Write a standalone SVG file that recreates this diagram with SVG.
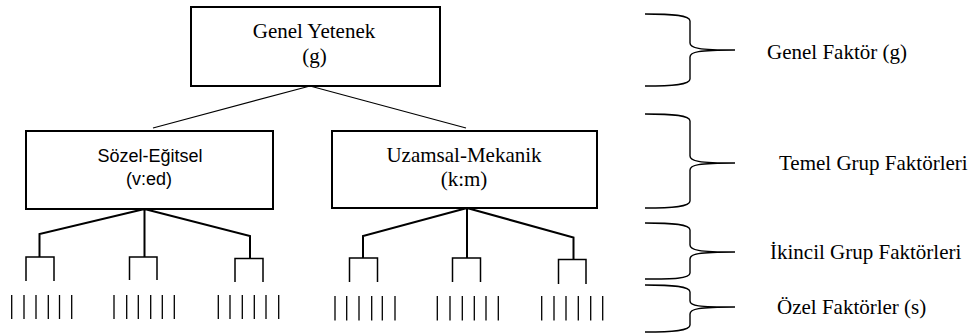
<svg xmlns="http://www.w3.org/2000/svg" width="973" height="334" viewBox="0 0 973 334">
<style>
.box{fill:#fff;stroke:#000;stroke-width:2}
.serif{font-family:"Liberation Serif","Times New Roman",serif;font-size:21px;fill:#000}
.sans{font-family:"Liberation Sans",Arial,sans-serif;font-size:18px;fill:#000}
.c{text-anchor:middle}
.thin{fill:none;stroke:#000;stroke-width:1.2}
.hub{fill:none;stroke:#000;stroke-width:2}
.br{fill:none;stroke:#000;stroke-width:1.5}
.tick{fill:none;stroke:#000;stroke-width:1.3}
.brace{fill:none;stroke:#000;stroke-width:1.4}
</style>
<rect width="973" height="334" fill="#fff"/>
<g id="connectors">
<path class="thin" d="M310,86 L153,128 M310,86 L466,128"/>
<path class="hub" d="M144.5,209 L39.5,234 L39.5,257 M144.5,209 L144.5,257 M144.5,209 L250,236 L250,258.5"/>
<path class="hub" d="M467,208 L363,236 L363,258 M467,208 L467,258 M467,208 L573.5,237.5 L573.5,259.5"/>
<path class="br" d="M26,281 V257 H54 V281 M129.5,280 V257 H157 V280 M235,282 V258.5 H263 V282"/>
<path class="br" d="M349.5,282 V258 H377.5 V282 M452.5,282 V258 H480.5 V282 M558.5,284 V259.5 H586 V284"/>
<path class="tick" d="M11.7,295 V319 M24,295 V319 M36,295 V319 M48.3,295 V319 M59.5,295 V319 M71.7,295 V319 M114,295 V319 M126.7,295 V319 M138.3,295 V319 M150.7,295 V319 M162.3,295 V319 M174.3,295 V319 M218.3,295 V319 M230,295 V319 M242.3,295 V319 M254.3,295 V319 M266,295 V319 M278.7,295 V319"/>
<path class="tick" d="M335,296 V320.5 M346.7,296 V320.5 M359,296 V320.5 M371.7,296 V320.5 M382.3,296 V320.5 M395,296 V320.5 M437.3,296 V320.5 M450,296 V320.5 M462.3,296 V320.5 M474.3,296 V320.5 M486,296 V320.5 M498.3,296 V320.5 M541.7,296 V320.5 M554,296 V320.5 M566,296 V320.5 M578.3,296 V320.5 M590.7,296 V320.5 M602.7,296 V320.5"/>
</g>
<g id="node-genel">
<rect class="box" x="191" y="7" width="249" height="79"/>
<text class="serif c" x="314" y="38">Genel Yetenek</text>
<text class="serif c" x="314.5" y="63">(g)</text>
</g>
<g id="node-sozel">
<rect class="box" x="26" y="131" width="247" height="78"/>
<text class="sans c" x="150" y="162">Sözel-Eğitsel</text>
<text class="sans c" x="149" y="185">(v:ed)</text>
</g>
<g id="node-uzamsal">
<rect class="box" x="332" y="131" width="265" height="77"/>
<text class="serif c" x="464" y="162">Uzamsal-Mekanik</text>
<text class="serif c" x="464" y="186">(k:m)</text>
</g>
<g id="brace-genel">
<path class="brace" d="M645,14 C672,14 690,15 690,21 L690,43 C690,48 698,50 735,50 M735,50 C698,50 690,52 690,57 L690,79 C690,85 672,86 645,86"/>
<text class="serif" x="767" y="59">Genel Faktör (g)</text>
</g>
<g id="brace-temel">
<path class="brace" d="M645,114 C672,114 690,115 690,121 L690,156 C690,161 698,163 735,163 M735,163 C698,163 690,165 690,170 L690,201 C690,207 672,208 645,208"/>
<text class="serif" x="779" y="170">Temel Grup Faktörleri</text>
</g>
<g id="brace-ikincil">
<path class="brace" d="M645,223 C672,223 690,224 690,230 L690,245 C690,250 698,252 735,252 M735,252 C698,252 690,254 690,259 L690,273 C690,279 672,279 645,279"/>
<text class="serif" x="770" y="259">İkincil Grup Faktörleri</text>
</g>
<g id="brace-ozel">
<path class="brace" d="M645,285 C672,285 690,286 690,292 L690,301 C690,306 698,307 735,307 M735,307 C698,307 690,309 690,314 L690,325 C690,331 672,332 645,332"/>
<text class="serif" x="777" y="314">Özel Faktörler (s)</text>
</g>
</svg>
